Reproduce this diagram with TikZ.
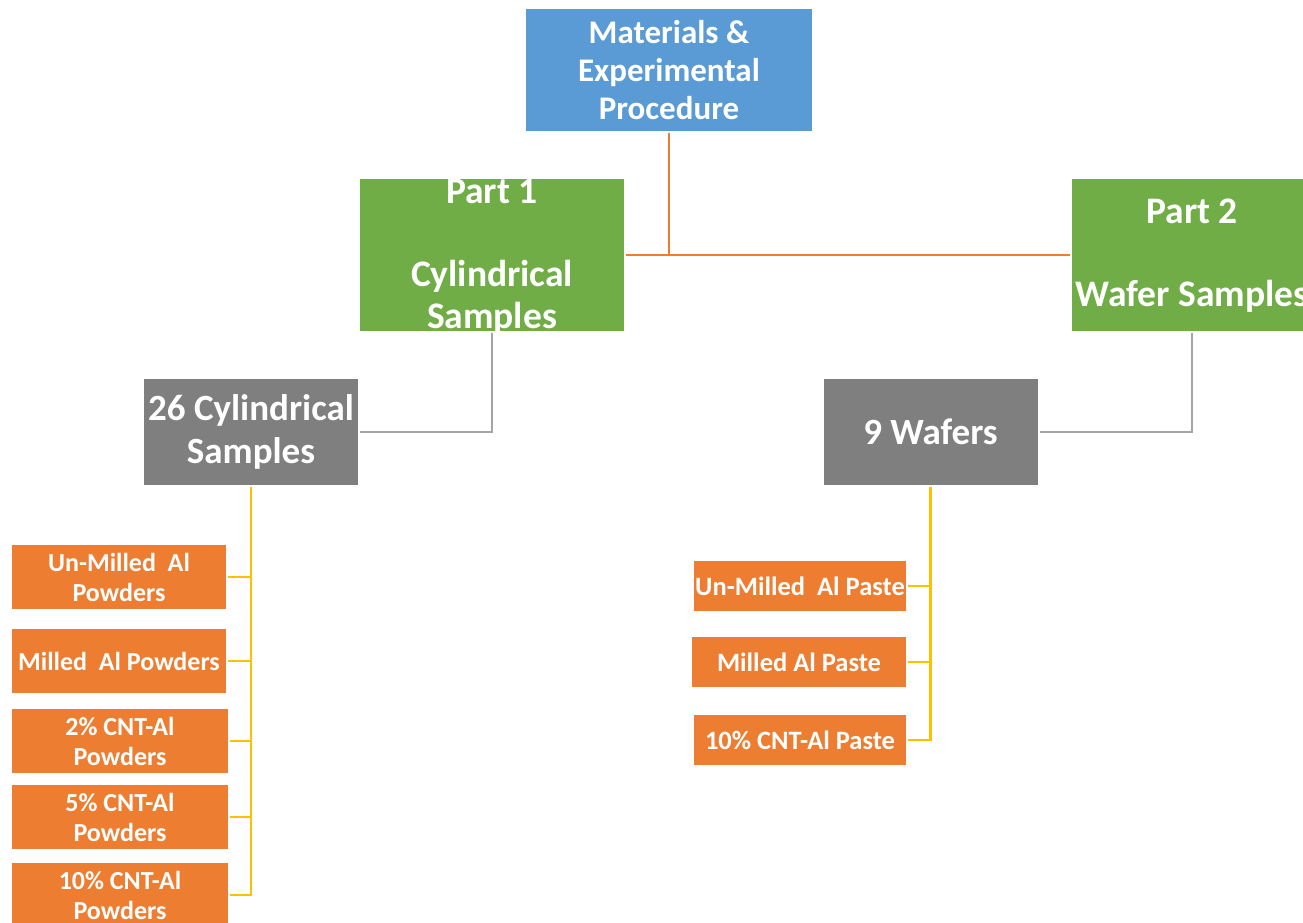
\documentclass[tikz,border=0pt]{standalone}
\usepackage{fontspec}
\setmainfont{Carlito}
\definecolor{cblue}{HTML}{5B9BD5}
\definecolor{cgreen}{HTML}{70AD47}
\definecolor{cgray}{HTML}{7F7F7F}
\definecolor{corange}{HTML}{ED7D31}
\definecolor{cyellow}{HTML}{FFC000}
\definecolor{cline}{HTML}{A5A5A5}
\tikzset{
  box/.style={rectangle, inner sep=0pt, draw=none, text=white, align=center, font=\bfseries},
  bluebox/.style={box, fill=cblue, minimum width=286pt, minimum height=122pt, font=\fontsize{33}{38}\selectfont\bfseries},
  greenbox/.style={box, fill=cgreen, minimum height=152pt},
  graybox/.style={box, fill=cgray, minimum width=214pt, minimum height=106pt, font=\fontsize{37}{43}\selectfont\bfseries},
  obox/.style={box, fill=corange, minimum height=64pt, font=\fontsize{26}{30}\selectfont\bfseries},
  pbox/.style={box, fill=corange, minimum height=50pt, font=\fontsize{26.5}{30}\selectfont\bfseries},
  btxt/.style={inner sep=0pt, text=white, align=center, font=\fontsize{37.5}{41.5}\selectfont\bfseries},
  oline/.style={draw=corange, line width=2pt},
  gline/.style={draw=cline, line width=2pt},
  yline/.style={draw=cyellow, line width=2.5pt},
}
\begin{document}
\begin{tikzpicture}[x=1pt,y=-1pt]
\useasboundingbox (0,0) rectangle (1303,922);
\clip (0,0) rectangle (1303,922);
% top
\node[bluebox] (mat) at (669,70) {Materials \&\\Experimental\\Procedure};
% part boxes
\node[greenbox, minimum width=264pt] (p1) at (492,255) {};
\node[btxt] (p1t) at (492,257) {Part 1\\\strut\\Cylindrical\\Samples};
\node[greenbox, minimum width=240pt] (p2) at (1192,255) {};
\node[btxt] (p2t) at (1192,256) {Part 2\\\strut\\Wafer Samples};
% gray boxes
\node[graybox] (g1) at (251,432) {26 Cylindrical\\Samples};
\node[graybox] (g2) at (930.5,432) {9 Wafers};
% left orange
\node[obox, minimum width=214pt] (o1) at (119,577) {Un-Milled~ Al\\Powders};
\node[obox, minimum width=214pt] (o2) at (119,661) {Milled~ Al Powders};
\node[obox, minimum width=216pt] (o3) at (120,741) {2\% CNT-Al\\Powders};
\node[obox, minimum width=216pt] (o4) at (120,817) {5\% CNT-Al\\Powders};
\node[obox, minimum width=216pt] (o5) at (120,895) {10\% CNT-Al\\Powders};
% right orange
\node[pbox, minimum width=212pt] (r1) at (800,586) {Un-Milled~ Al Paste};
\node[pbox, minimum width=214pt] (r2) at (799,662) {Milled Al Paste};
\node[pbox, minimum width=212pt] (r3) at (800,740) {10\% CNT-Al Paste};
% connectors
\coordinate (jt) at (mat.south |- p1.east);
\draw[oline, shorten <=2pt] (mat.south) -- (jt);
\draw[oline, shorten <=2pt, shorten >=2pt] (p1.east) -- (p2.west);
\draw[gline, shorten <=2pt] (p1.south) -- (p1.south |- g1.east) -- ([xshift=2pt]g1.east);
\draw[gline, shorten <=2pt] (p2.south) -- (p2.south |- g2.east) -- ([xshift=2pt]g2.east);
\draw[yline, shorten <=2pt] (g1.south) -- (g1.south |- o5.east) -- ([xshift=2pt]o5.east);
\foreach \n in {o1,o2,o3,o4} \draw[yline, line width=2pt] ([xshift=2pt]\n.east) -- (\n.east -| g1.south);
\draw[yline, shorten <=2pt] (g2.south) -- (g2.south |- r3.east) -- ([xshift=2pt]r3.east);
\foreach \n in {r1,r2} \draw[yline, line width=2pt] ([xshift=2pt]\n.east) -- (\n.east -| g2.south);
\end{tikzpicture}
\end{document}
